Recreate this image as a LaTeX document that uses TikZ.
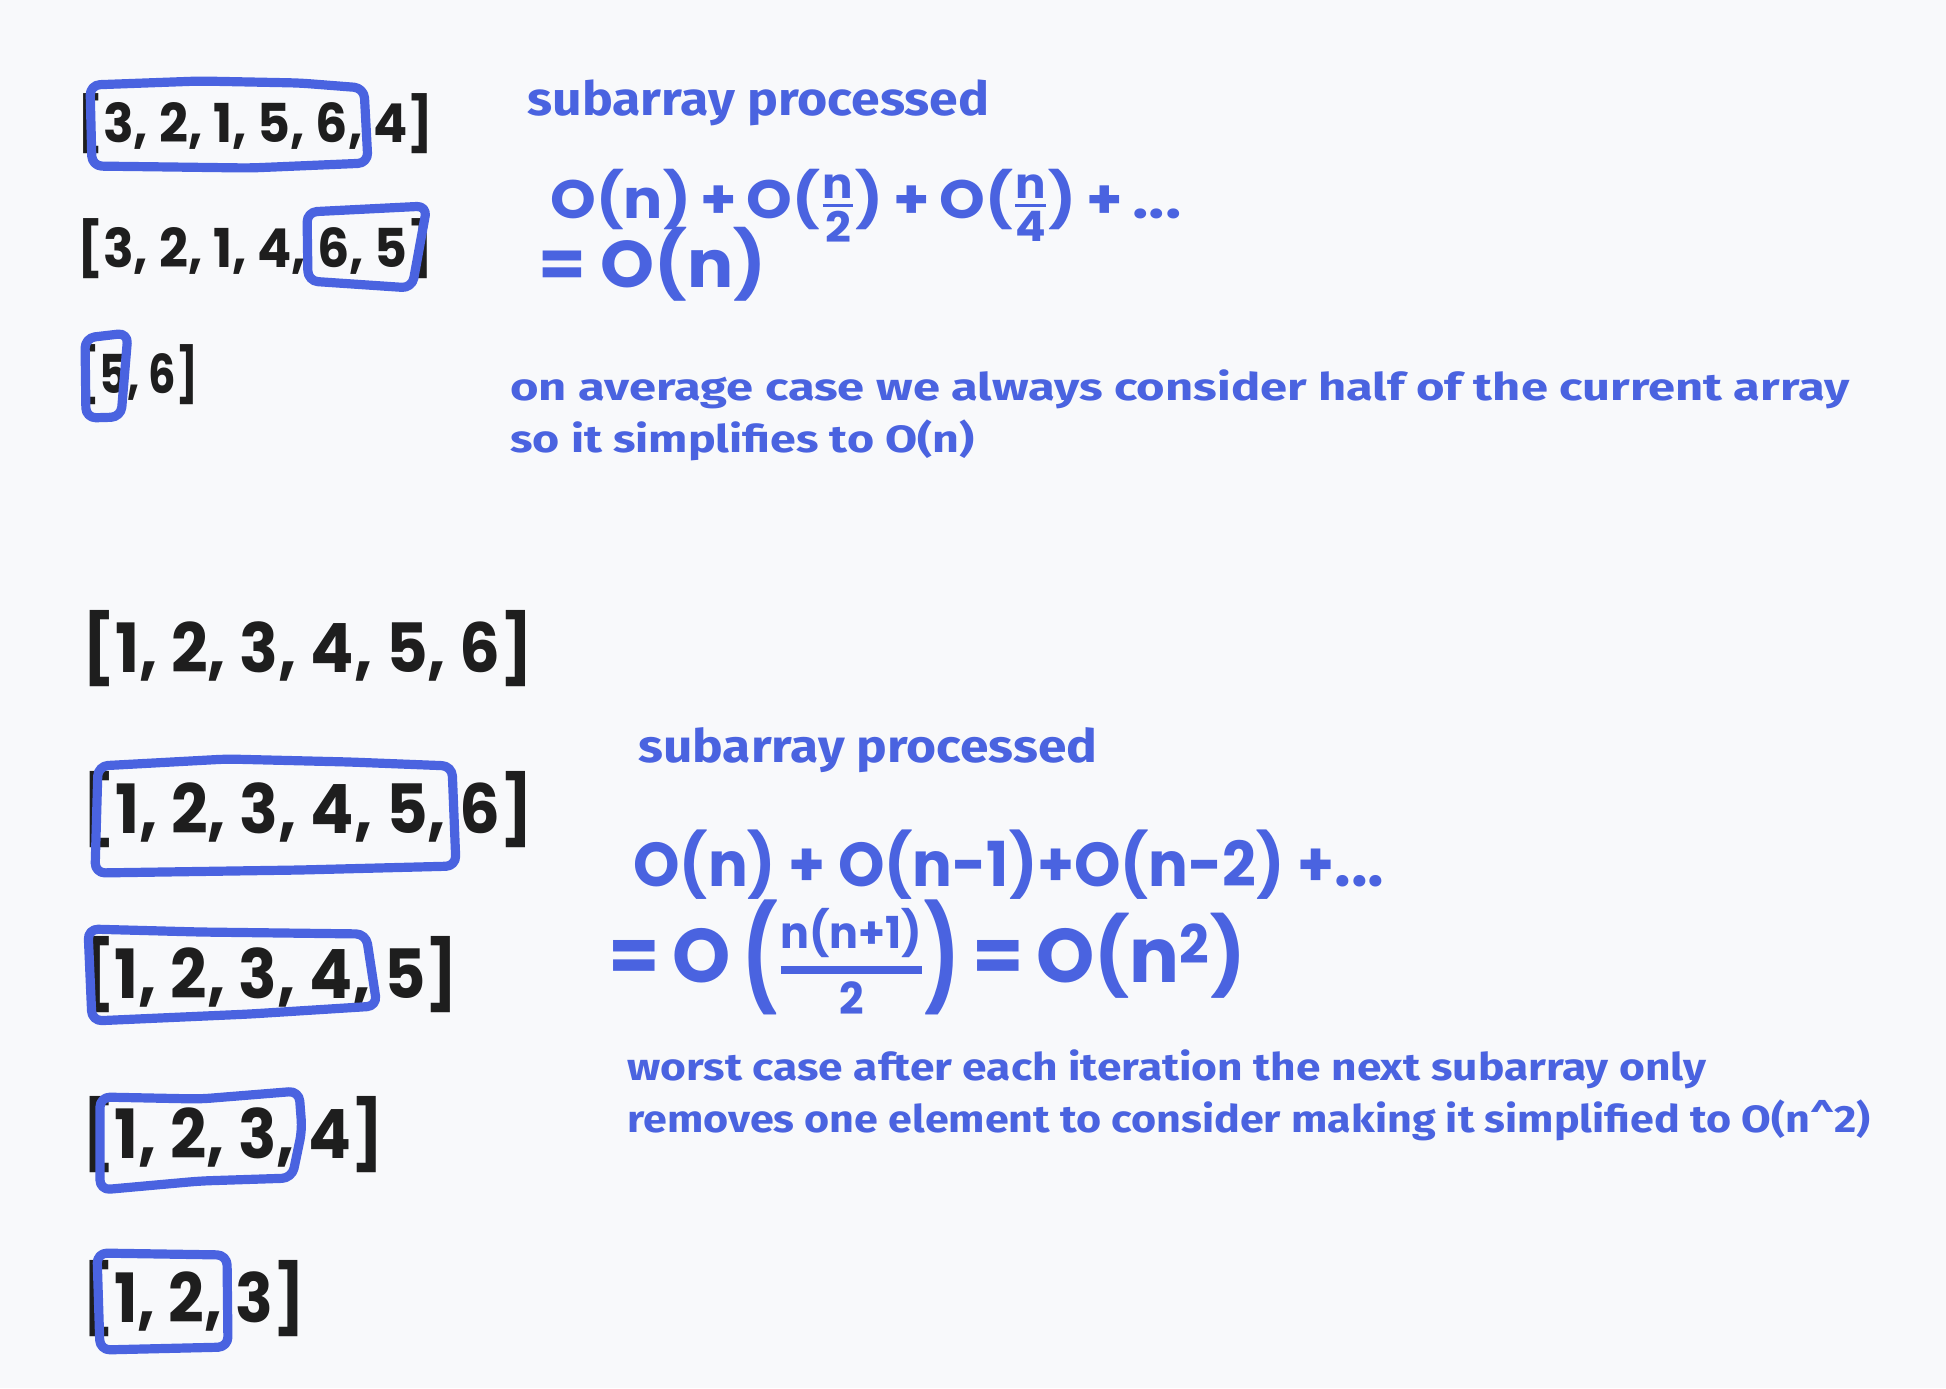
\documentclass[tikz,border=0pt]{standalone}
\usepackage{fontspec}
\usepackage{graphicx}
\setmainfont{Poppins}
\newfontfamily\arrfont{Poppins}
\newfontfamily\handfont{Fira Sans}
\definecolor{exblue}{RGB}{74,99,224}
\definecolor{exink}{RGB}{30,30,30}
\definecolor{exbg}{RGB}{248,249,251}
\newcommand\fitw[2]{\resizebox{#1}{\height}{#2}}
\newcommand\arrtxt[3]{\fitw{#1}{\arrfont\bfseries\fontsize{#2}{#2}\selectfont #3}}
\newcommand\hfr[4]{${\mbox{\fontsize{#3}{#3}\selectfont #1}\above #4\mbox{\fontsize{#3}{#3}\selectfont #2}}$}
\newcommand\bigpar[1]{\raisebox{-0.15em}{\scalebox{1}[1.35]{#1}}}
\tikzset{
  arr/.style={anchor=base west, inner sep=0pt, text=exink},
  note/.style={anchor=base west, inner sep=0pt, text=exblue, font=\handfont\bfseries},
  formula/.style={anchor=base west, inner sep=0pt, text=exblue, font=\bfseries},
  hbox/.style={draw=exblue, line width=4.6pt, line cap=round, line join=round, rounded corners=5pt},
}
\begin{document}
\begin{tikzpicture}[x=0.5pt,y=-0.5pt]
\useasboundingbox (0,0) rectangle (1946,1388);
\fill[exbg] (0,0) rectangle (1946,1388);

% ---- average case arrays
\node[arr] (a1) at (77,142) {\arrtxt{178pt}{26.8}{[3, 2, 1, 5, 6, 4]}};
\node[arr] (a2) at (77,267) {\arrtxt{178pt}{26.8}{[3, 2, 1, 4, 6, 5]}};
\node[arr] (a3) at (77,393) {\arrtxt{60.5pt}{26.8}{[5, 6]}};

\draw[hbox] (90,85) -- (200,81) -- (300,83) -- (364,88) -- (368,163) -- (250,168) -- (92,166) -- cycle;
\draw[hbox] (307,212) -- (427,206) -- (412,288) -- (308,281) -- cycle;
\draw[hbox] (85,338) -- (128,333) -- (121,417) -- (86,418) -- cycle;

% ---- average case notes
\node[note] (t1) at (527,115) {\fitw{231pt}{\fontsize{23.5}{23.5}\selectfont subarray processed}};
\node[formula] (f1) at (550,218) {\fitw{315.5pt}{\fontsize{27}{27}\selectfont O(n)\,+\,O(\hfr{n}{2}{21}{1.8pt})\,+\,O(\hfr{n}{4}{21}{1.8pt})\,+\,...}};
\node[formula] (f2) at (538,287) {\fitw{114pt}{\fontsize{33}{33}\selectfont = O(n)}};
\node[note] (t2) at (510,400) {\fitw{669.5pt}{\fontsize{19}{19}\selectfont on average case we always consider half of the current array}};
\node[note] (t3) at (510,452) {\fitw{232pt}{\fontsize{19}{19}\selectfont so it simplifies to O(n)}};

% ---- worst case arrays
\node[arr] (b1) at (82,672) {\arrtxt{225.5pt}{34}{[1, 2, 3, 4, 5, 6]}};
\node[arr] (b2) at (82,833) {\arrtxt{225.5pt}{34}{[1, 2, 3, 4, 5, 6]}};
\node[arr] (b3) at (82,998) {\arrtxt{188pt}{34}{[1, 2, 3, 4, 5]}};
\node[arr] (b4) at (82,1158) {\arrtxt{150.5pt}{34}{[1, 2, 3, 4]}};
\node[arr] (b5) at (82,1322) {\arrtxt{111.5pt}{34}{[1, 2, 3]}};

\draw[hbox] (98,766) -- (227,759) -- (350,762) -- (452,766) -- (456,866) -- (300,870) -- (95,873) -- cycle;
\draw[hbox] (88,929) -- (200,932) -- (366,934) -- (377,1006) -- (250,1014) -- (92,1021) -- cycle;
\draw[hbox] (100,1097) -- (200,1099) -- (299,1091) -- (302,1130) -- (292,1178) -- (200,1181) -- (100,1190) -- cycle;
\draw[hbox] (97,1253) -- (227,1255) -- (228,1347) -- (100,1350) -- cycle;

% ---- worst case notes
\node[note] (t4) at (638,762) {\fitw{229.5pt}{\fontsize{23}{23}\selectfont subarray processed}};
\node[formula] (f3) at (633,886) {\fitw{375.5pt}{\fontsize{31}{31}\selectfont O(n) + O(n-1)+O(n-2) +...}};
\node[formula] (f4) at (608,982) {\fitw{318.5pt}{\fontsize{38}{38}\selectfont =\,O\,\bigpar{(}\hfr{n(n+1)}{2}{22}{4pt}\bigpar{)}\,=\,O(n\textsuperscript{2})}};
\node[note] (t5) at (627,1080) {\fitw{539.5pt}{\fontsize{19}{19}\selectfont worst case after each iteration the next subarray only}};
\node[note] (t6) at (627,1132) {\fitw{621.5pt}{\fontsize{19}{19}\selectfont removes one element to consider making it simplified to O(n\^{}2)}};
\end{tikzpicture}
\end{document}
